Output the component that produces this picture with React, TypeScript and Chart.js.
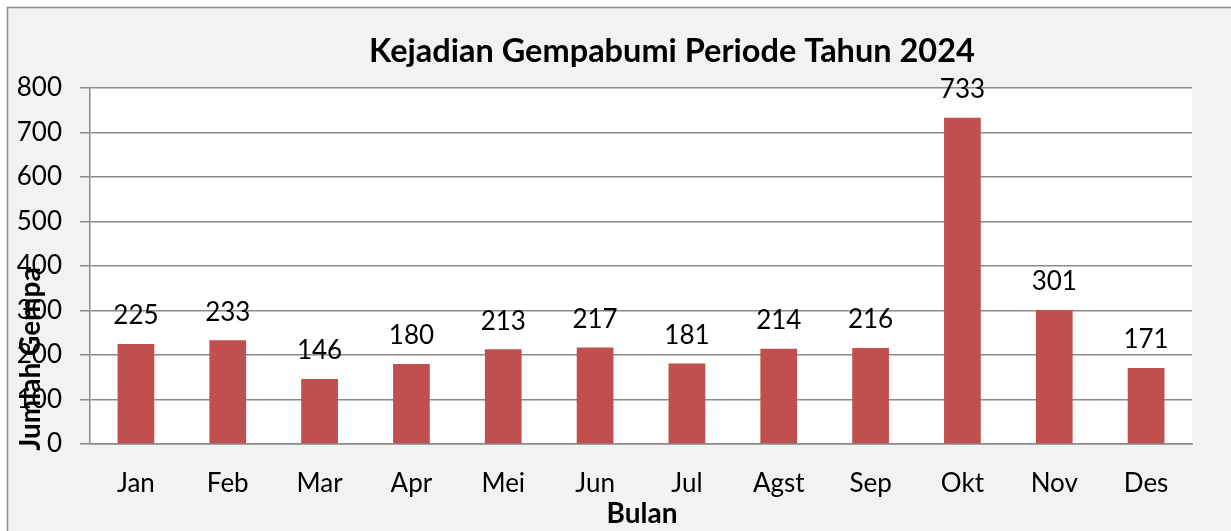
import React, { useEffect, useRef } from "react";
import { Chart, registerables } from "chart.js";

Chart.register(...registerables);

const months = ["Jan", "Feb", "Mar", "Apr", "Mei", "Jun", "Jul", "Agst", "Sep", "Okt", "Nov", "Des"];
const quakeCounts = [225, 233, 146, 180, 213, 217, 181, 214, 216, 733, 301, 171];
const yTickMin = 0;
const yTickMax = 800;
const yTickStep = 100;

const chartTitle = "Kejadian Gempabumi Periode Tahun 2024";
const xAxisTitle = "Bulan";
const yAxisTitle = "Jumlah Gempa";

const FONT = "Lato, 'Open Sans', sans-serif";
const GRID = "#8a8a8a";

const decorPlugin = {
  id: "decor",
  beforeDraw(chart: any) {
    const { ctx, width, height, chartArea } = chart;
    ctx.save();
    ctx.fillStyle = "#ffffff";
    ctx.fillRect(0, 0, width, height);
    ctx.fillStyle = "#F2F2F2";
    ctx.fillRect(7, 7, width - 7, height - 7);
    ctx.strokeStyle = "#8c8c8c";
    ctx.lineWidth = 1.5;
    ctx.beginPath();
    ctx.moveTo(7.5, height);
    ctx.lineTo(7.5, 7.5);
    ctx.lineTo(width, 7.5);
    ctx.stroke();
    ctx.fillStyle = "#ffffff";
    ctx.fillRect(chartArea.left, chartArea.top, chartArea.right - chartArea.left, chartArea.bottom - chartArea.top);
    ctx.restore();
  },
  afterDatasetsDraw(chart: any) {
    const { ctx } = chart;
    const meta = chart.getDatasetMeta(0);
    const data = chart.data.datasets[0].data;
    ctx.save();
    ctx.fillStyle = "#000000";
    ctx.font = `26px ${FONT}`;
    ctx.textAlign = "center";
    ctx.textBaseline = "middle";
    meta.data.forEach((bar: any, i: number) => {
      ctx.fillText(String(data[i]), bar.x, bar.y - 28);
    });
    ctx.restore();
  },
  afterDraw(chart: any) {
    const { ctx } = chart;
    ctx.save();
    ctx.fillStyle = "#000000";
    ctx.textAlign = "center";
    ctx.textBaseline = "middle";
    ctx.font = `bold 32.5px ${FONT}`;
    ctx.fillText(chartTitle, 672, 52);
    ctx.font = `bold 28px ${FONT}`;
    ctx.fillText(xAxisTitle, 642, 514);
    ctx.translate(31, 359);
    ctx.rotate(-Math.PI / 2);
    ctx.fillText(yAxisTitle, 0, 0);
    ctx.restore();
  },
};

export default function App() {
  const ref = useRef<HTMLCanvasElement | null>(null);
  useEffect(() => {
    if (!ref.current) return;
    const chart = new Chart(ref.current, {
      type: "bar",
      data: {
        labels: months,
        datasets: [
          {
            data: quakeCounts,
            backgroundColor: "#C0504D",
            barPercentage: 0.4,
            categoryPercentage: 1,
          },
        ],
      },
      options: {
        responsive: false,
        animation: false,
        layout: { padding: { top: 88, right: 39, left: 0, bottom: 0 } },
        plugins: {
          legend: { display: false },
          tooltip: { enabled: false },
          title: { display: false },
        },
        scales: {
          x: {
            afterFit(scale: any) {
              scale.height = 87;
            },
            grid: { display: false, drawTicks: false },
            border: { display: true, color: GRID, width: 1.5 },
            ticks: {
              color: "#000000",
              font: { family: FONT, size: 26 },
              padding: 24,
              maxRotation: 0,
              autoSkip: false,
            },
          },
          y: {
            min: yTickMin,
            max: yTickMax,
            afterFit(scale: any) {
              scale.width = 90;
            },
            grid: { color: GRID, lineWidth: 1.5, drawTicks: true, tickLength: 10 },
            border: { display: true, color: GRID, width: 1.5 },
            ticks: {
              stepSize: yTickStep,
              color: "#000000",
              font: { family: FONT, size: 26 },
              padding: 18,
            },
          },
        },
      },
      plugins: [decorPlugin],
    });
    return () => chart.destroy();
  }, []);
  return (
    <div style={{ position: "absolute", left: 0, top: 0, width: 1231, height: 531 }}>
      <canvas ref={ref} width={1231} height={531} style={{ display: "block", width: 1231, height: 531 }} />
    </div>
  );
}
